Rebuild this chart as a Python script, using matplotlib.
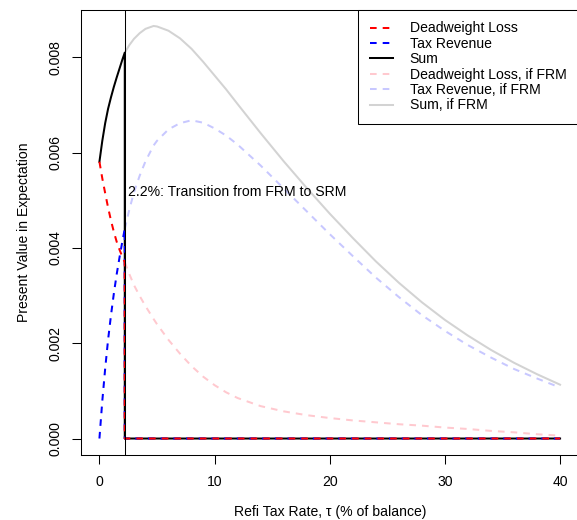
import numpy as np
import matplotlib
matplotlib.use("Agg")
import matplotlib.pyplot as plt

plt.rcParams['font.family'] = ['Liberation Sans', 'DejaVu Sans']

# SRM case (up to the 2.2% switch point, zero afterwards)
tau_srm = [0, 0.25, 0.5, 0.75, 1.0, 1.25, 1.5, 1.75, 2.0, 2.2, 2.2, 40]
dwl_srm = [0.00581, 0.00546, 0.00515, 0.00485, 0.00458, 0.00434, 0.00413, 0.00396,
           0.00381, 0.00370, 0.0, 0.0]
rev_srm = [0.0, 0.00079, 0.00147, 0.00207, 0.00258, 0.00304, 0.00345, 0.00381,
           0.00415, 0.00440, 0.0, 0.0]
sum_srm = [0.00581, 0.00625, 0.00662, 0.00692, 0.00716, 0.00738, 0.00758, 0.00777,
           0.00796, 0.00810, 0.0, 0.0]

# FRM case
tau_frm = [2.2, 2.6, 3, 3.5, 4, 4.7, 5, 6, 7, 8, 9, 10, 11, 12, 14, 16, 18, 20,
           22, 24, 26, 28, 30, 32, 34, 36, 38, 40]
dwl_frm = [0.00370, 0.00345, 0.00322, 0.00299, 0.00278, 0.00251, 0.00240, 0.00207,
           0.00178, 0.00152, 0.00130, 0.00112, 0.00097, 0.00085, 0.00068, 0.00057,
           0.00049, 0.00043, 0.00038, 0.00034, 0.00030, 0.00027, 0.00023, 0.00020,
           0.00016, 0.00013, 0.00009, 0.00006]
rev_frm = [0.00440, 0.00481, 0.00517, 0.00552, 0.00582, 0.00615, 0.00625, 0.00649,
           0.00662, 0.00668, 0.00663, 0.00651, 0.00636, 0.00617, 0.00573, 0.00525,
           0.00477, 0.00429, 0.00383, 0.00338, 0.00297, 0.00259, 0.00226, 0.00196,
           0.00170, 0.00146, 0.00126, 0.00107]
sum_frm = [0.00810, 0.00826, 0.00839, 0.00851, 0.00860, 0.00866, 0.00865, 0.00856,
           0.00840, 0.00818, 0.00791, 0.00762, 0.00733, 0.00702, 0.00641, 0.00582,
           0.00526, 0.00472, 0.00421, 0.00372, 0.00327, 0.00286, 0.00249, 0.00216,
           0.00186, 0.00159, 0.00135, 0.00113]

switch = 2.2

fig = plt.figure(figsize=(5.77, 5.20), dpi=100)
ax = fig.add_axes([81/577, 65/520, 497.5/577, 445.5/520])

lw = 1.45
dash = (3.3, 3.0)

# FRM lines (faded)
ax.plot(tau_frm, dwl_frm, color='#FFC9CF', lw=lw, dashes=dash, label='Deadweight Loss, if FRM')
ax.plot(tau_frm, rev_frm, color='#C8C8FF', lw=lw, dashes=dash, label='Tax Revenue, if FRM')
ax.plot(tau_frm, sum_frm, color='#D3D3D3', lw=lw, label='Sum, if FRM')

# SRM lines
ax.plot(tau_srm, sum_srm, color='black', lw=lw, label='Sum')
ax.plot(tau_srm, rev_srm, color='blue', lw=lw, dashes=dash, label='Tax Revenue')
ax.plot(tau_srm, dwl_srm, color='red', lw=lw, dashes=dash, label='Deadweight Loss')

ax.axvline(switch, color='black', lw=0.75)
ax.text(2.5, 0.00518, '2.2%: Transition from FRM to SRM', fontsize=10.1,
        ha='left', va='center')

ax.set_xlim(-1.6, 41.6)
ax.set_ylim(-0.000346, 0.009006)
ax.set_xticks([0, 10, 20, 30, 40])
ax.set_yticks([0, 0.002, 0.004, 0.006, 0.008])
ax.set_yticklabels(['0.000', '0.002', '0.004', '0.006', '0.008'],
                   rotation=90, va='center')
ax.tick_params(labelsize=10.1, length=6.2, width=0.75)
ax.tick_params(axis='x', pad=8.5)
ax.tick_params(axis='y', pad=7)
for s in ax.spines.values():
    s.set_linewidth(0.75)

ax.set_xlabel('Refi Tax Rate, \u03c4 (% of balance)', fontsize=10.1, labelpad=11.5)
ax.set_ylabel('Present Value in Expectation', fontsize=10.1, labelpad=13)

handles, labels = ax.get_legend_handles_labels()
order = [5, 4, 3, 0, 1, 2]
leg = ax.legend([handles[i] for i in order], [labels[i] for i in order],
                loc='upper right', bbox_to_anchor=(1, 1), borderaxespad=0,
                fontsize=10.1, frameon=True, fancybox=False, framealpha=1,
                edgecolor='black', handlelength=1.65, handletextpad=1.2,
                borderpad=0.85, labelspacing=0.1)
leg.get_frame().set_linewidth(0.75)

fig.savefig('out.png', dpi=100)
